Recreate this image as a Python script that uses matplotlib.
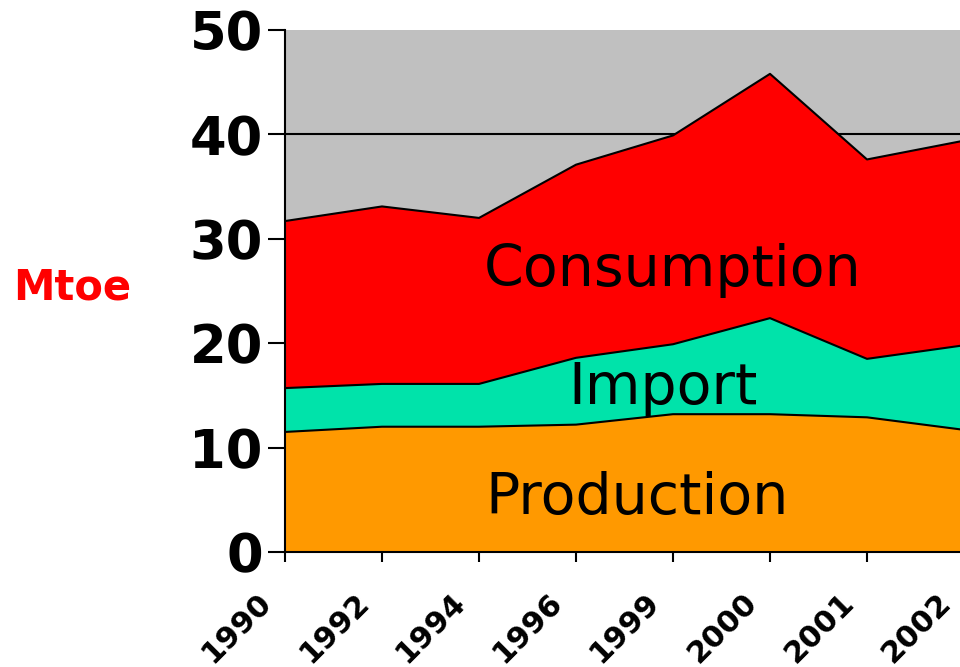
import numpy as np
import matplotlib
matplotlib.use("Agg")
import matplotlib.pyplot as plt
from matplotlib.transforms import ScaledTranslation

years = ["1990", "1992", "1994", "1996", "1999", "2000", "2001", "2002"]
production = [11.5, 12.0, 12.0, 12.2, 13.2, 13.2, 12.9, 11.7]
imports = [4.2, 4.1, 4.1, 6.4, 6.7, 9.2, 5.6, 8.1]
consumption = [16.0, 17.0, 15.9, 18.5, 20.0, 23.4, 19.1, 19.6]

colors = ["#FF9900", "#00E3AA", "#FF0000"]

fig = plt.figure(figsize=(9.6, 6.67), dpi=100)
ax = fig.add_axes([285 / 960, 1 - 552 / 667, 679 / 960, 522 / 667])
ax.set_facecolor("#C0C0C0")

x = np.arange(len(years))
ax.stackplot(x, production, imports, consumption, colors=colors,
             edgecolor="none", zorder=2)
tops = np.cumsum([production, imports, consumption], axis=0)
for t in tops:
    ax.plot(x, t, color="black", lw=1.5, zorder=3)

ax.set_xlim(0, len(years) - 1)
ax.set_ylim(0, 50)
ax.set_yticks(range(0, 51, 10))
# grid lines at 10..40 only (no line on top)
for yv in range(10, 50, 10):
    ax.axhline(yv, color="black", lw=1.5, zorder=1)

for s in ["top", "right"]:
    ax.spines[s].set_visible(False)
ax.spines["left"].set_linewidth(1.5)
ax.spines["bottom"].set_linewidth(1.5)
ax.spines["bottom"].set_zorder(4)

ax.set_xticks(x)
ax.set_xticklabels(years, rotation=45, ha="right", va="top",
                   rotation_mode="anchor", fontsize=22, fontweight="bold")
ax.tick_params(axis="x", length=7, width=1.5, pad=0)
offset = ScaledTranslation(-28 / 100, -26 / 100, fig.dpi_scale_trans)
for lab in ax.get_xticklabels():
    lab.set_transform(lab.get_transform() + offset)
ax.tick_params(axis="y", length=12, width=1.5, labelsize=38, pad=4)
for lab in ax.get_yticklabels():
    lab.set_fontweight("bold")

ax.text(4.0, 27.0, "Consumption", fontsize=41, ha="center", va="center", zorder=5)
ax.text(3.9, 15.7, "Import", fontsize=41, ha="center", va="center", zorder=5)
ax.text(3.63, 5.1, "Production", fontsize=41, ha="center", va="center", zorder=5)

fig.text(72 / 960, 1 - 288 / 667, "Mtoe", color="#FF0000", fontsize=30,
         fontweight="bold", ha="center", va="center")

fig.savefig("out.png", dpi=100)
